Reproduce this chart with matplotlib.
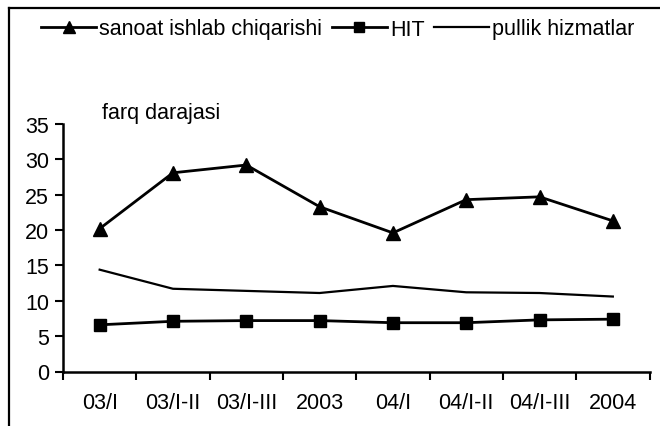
import matplotlib
matplotlib.use("Agg")
import matplotlib.pyplot as plt
from matplotlib.lines import Line2D
import numpy as np

categories = ["03/I", "03/I-II", "03/I-III", "2003", "04/I", "04/I-II", "04/I-III", "2004"]
sanoat = [20.2, 28.1, 29.2, 23.3, 19.6, 24.3, 24.7, 21.3]
hit = [6.6, 7.1, 7.2, 7.2, 6.9, 6.9, 7.3, 7.4]
pullik = [14.4, 11.7, 11.4, 11.1, 12.1, 11.2, 11.1, 10.6]
labels = ["sanoat ishlab chiqarishi", "HIT", "pullik hizmatlar"]
yticks = [0, 5, 10, 15, 20, 25, 30, 35]

FS = 15.5
plt.rcParams['font.family'] = ['Liberation Sans', 'DejaVu Sans']
W, H = 660, 427
fig = plt.figure(figsize=(W / 100, H / 100), dpi=100)

ax = fig.add_axes([63 / W, 1 - 372.5 / H, (649.5 - 63) / W, (372.5 - 125) / H])
x = np.arange(len(categories)) + 0.5
ax.plot(x, sanoat, color='black', lw=2, marker='^', ms=10, label=labels[0])
ax.plot(x, hit, color='black', lw=2, marker='s', ms=8.5, label=labels[1])
ax.plot(x, pullik, color='black', lw=1.6, label=labels[2])

ax.set_xlim(0, len(categories))
ax.set_ylim(0, 35)
ax.set_yticks(yticks)
ax.set_xticks(np.arange(len(categories) + 1))
ax.set_xticklabels([])
ax.set_xticks(x, minor=True)
ax.set_xticklabels(categories, minor=True)
ax.tick_params(axis='x', which='major', direction='out', length=6, width=1.5)
ax.tick_params(axis='x', which='minor', length=0, pad=15, labelsize=FS)
ax.tick_params(axis='y', direction='out', length=6, width=1.5, labelsize=FS, pad=4)
for s in ['top', 'right']:
    ax.spines[s].set_visible(False)
for s in ['left', 'bottom']:
    ax.spines[s].set_linewidth(1.8)

fig.text(102 / W, 1 - 113 / H, "farq darajasi", fontsize=FS, ha='left', va='center')

handles, labs = ax.get_legend_handles_labels()
leg = fig.legend(handles, labs, loc='center', bbox_to_anchor=(338 / W, 1 - 30 / H), ncol=3,
                 frameon=False, fontsize=FS, handlelength=2.55, handletextpad=0.15,
                 columnspacing=0.45, borderpad=0, markerscale=0.85)

# outer frame (cropped chart border)
fig.add_artist(Line2D([8.5 / W, 8.5 / W], [0, 1 - 8.5 / H], transform=fig.transFigure, color='black', lw=1.6))
fig.add_artist(Line2D([8.5 / W, 1], [1 - 8.5 / H, 1 - 8.5 / H], transform=fig.transFigure, color='black', lw=1.6))

fig.savefig("out.png", dpi=100)
